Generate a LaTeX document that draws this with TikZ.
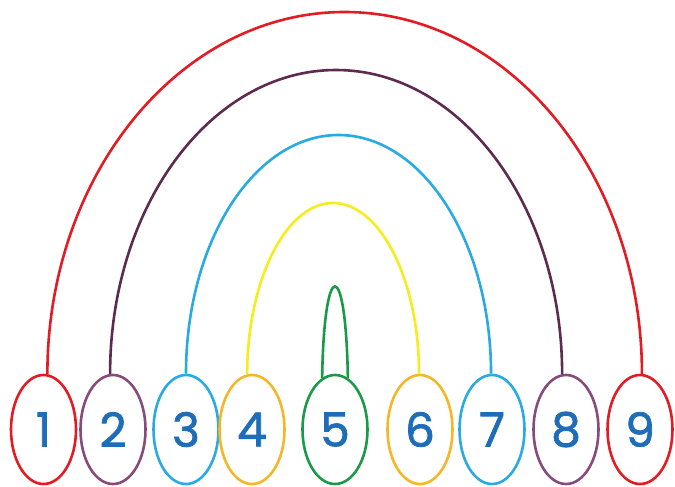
\documentclass[tikz,border=0pt]{standalone}
\usepackage{fontspec}
\newfontfamily\digitfont{Poppins}[FakeBold=1.6]
\usetikzlibrary{shapes.geometric,calc}

\definecolor{archred}{HTML}{E31B23}
\definecolor{archplum}{HTML}{5E2B50}
\definecolor{ovalplum}{HTML}{874A7C}
\definecolor{archblue}{HTML}{2AAAE2}
\definecolor{archyellow}{HTML}{F7EC1C}
\definecolor{ovalgold}{HTML}{F4B72A}
\definecolor{archgreen}{HTML}{1A9A48}
\definecolor{digitblue}{HTML}{1D6DB8}

\begin{document}
\begin{tikzpicture}[x=1pt,y=-1pt,
    oval/.style={ellipse, draw=#1, line width=2.6pt, minimum width=65pt,
        minimum height=109pt, inner sep=0pt, text=digitblue,
        font=\digitfont\fontsize{47}{47}\selectfont},
    arch/.style={draw=#1, line width=2.6pt}]
    \fill[white] (0,0) rectangle (675,487);

    % the number ovals
    \node[oval=archred] (n1) at (43.5,429.5) {1};
    \node[oval=ovalplum] (n2) at (113,429.5) {2};
    \node[oval=archblue] (n3) at (186,429.5) {3};
    \node[oval=ovalgold] (n4) at (252,429.5) {4};
    \node[oval=archgreen] (n5) at (335,429.5) {5};
    \node[oval=ovalgold] (n6) at (420,429.5) {6};
    \node[oval=archblue] (n7) at (492,429.5) {7};
    \node[oval=ovalplum] (n8) at (566,429.5) {8};
    \node[oval=archred] (n9) at (640,429.5) {9};

    % tops of the bows
    \coordinate (t1) at (344.5,12);
    \coordinate (t2) at (336,70);
    \coordinate (t3) at (338.5,135);
    \coordinate (t4) at (333,203);

    % rainbow bows
    \draw[arch=archred] (n1.86) .. controls +(0,-200) and +(-164,0) .. (t1)
        .. controls +(164,0) and +(0,-200) .. (n9.88);
    \draw[arch=archplum] (n2.93) .. controls +(0,-168) and +(-125,0) .. (t2)
        .. controls +(125,0) and +(0,-168) .. (n8.94);
    \draw[arch=archblue] (n3.90) .. controls +(0,-132) and +(-84,0) .. (t3)
        .. controls +(84,0) and +(0,-132) .. (n7.91);
    \draw[arch=archyellow] (n4.95) .. controls +(0,-94) and +(-47,0) .. (t4)
        .. controls +(47,0) and +(0,-94) .. (n6.91);
    \draw[arch=archgreen] (n5.104) .. controls +(2,-122) and +(-2,-122) .. (n5.76);
\end{tikzpicture}
\end{document}
